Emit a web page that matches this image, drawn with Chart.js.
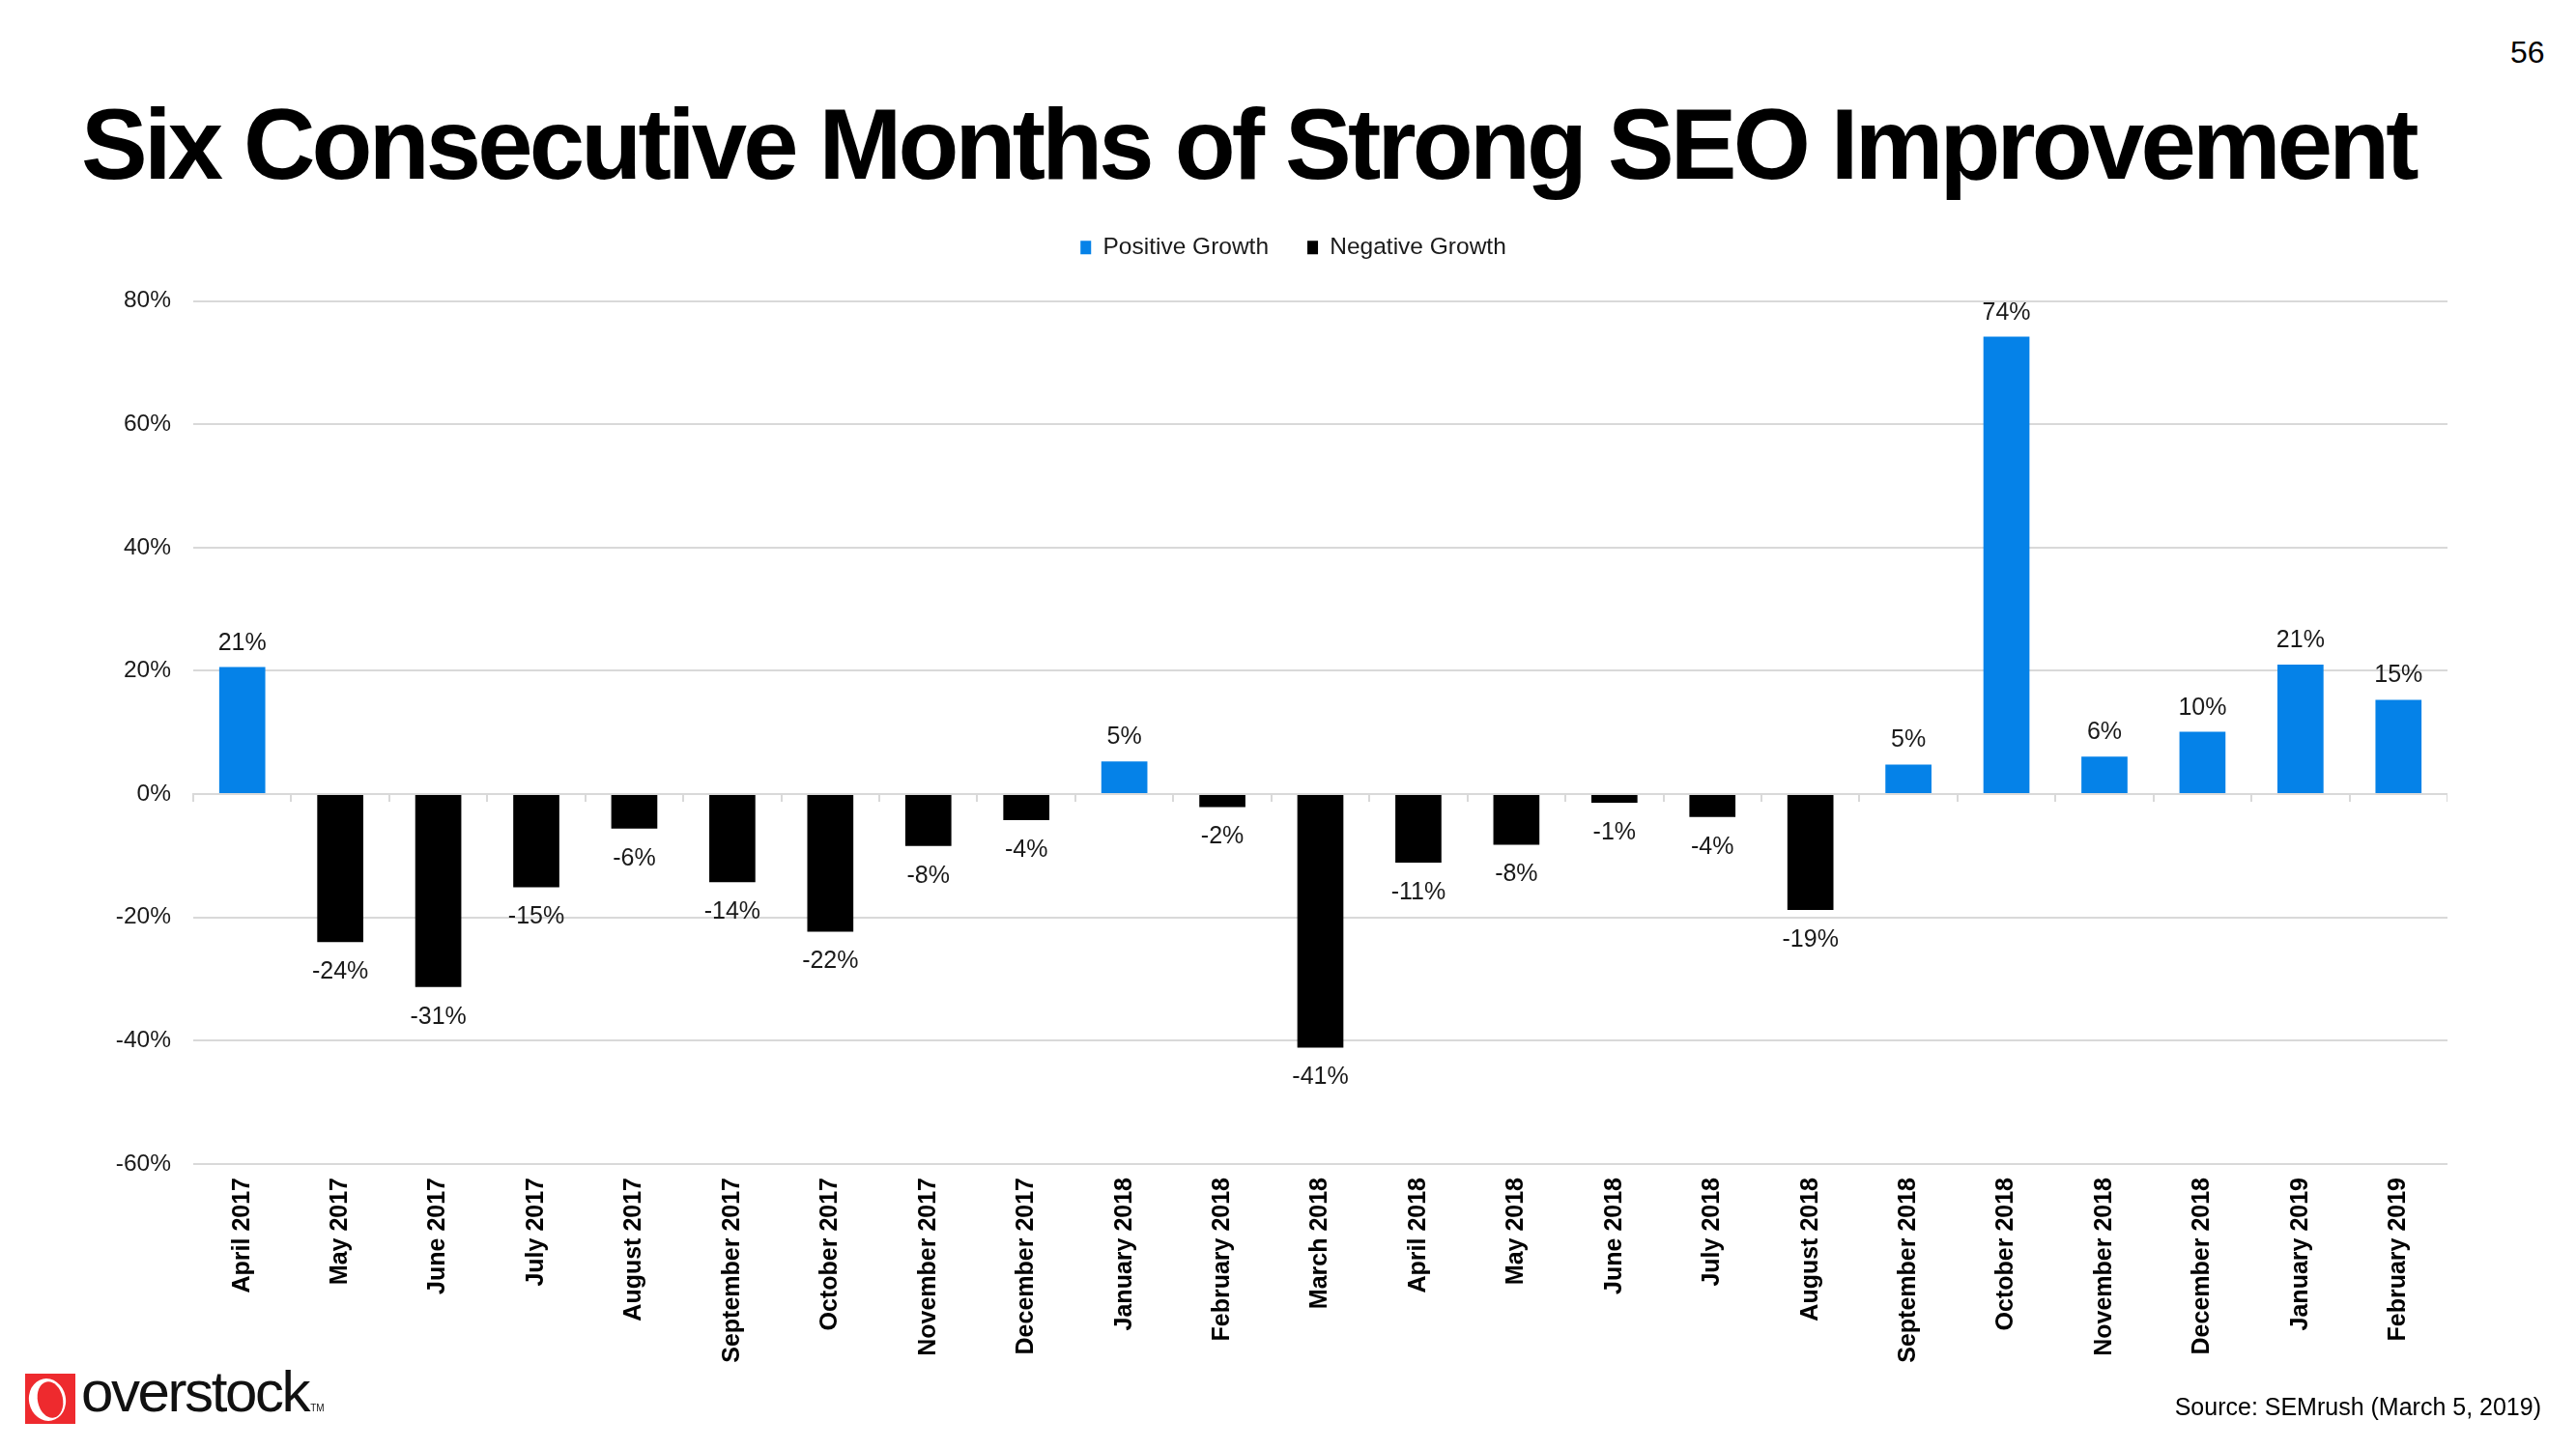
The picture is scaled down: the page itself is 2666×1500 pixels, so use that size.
<!DOCTYPE html>
<html>
<head>
<meta charset="utf-8">
<script src="https://cdn.jsdelivr.net/npm/chart.js@4.4.1/dist/chart.umd.min.js"></script>
<style>
  html, body { margin: 0; padding: 0; background: #fff; }
  body { width: 2666px; height: 1500px; position: relative; overflow: hidden; font-family: 'Liberation Sans', Arial, sans-serif; }
  #wrap { position: absolute; left: 0; top: 0; width: 2533px; height: 1500px; }
  #title { position: absolute; left: 84px; top: 98px; font-size: 103px; line-height: 1; font-weight: bold; color: #000; white-space: nowrap; letter-spacing: -3.8px; }
  #page { position: absolute; left: 2598px; top: 38px; font-size: 32px; line-height: 1; color: #000; }
  #source { position: absolute; right: 36px; top: 1444px; font-size: 25px; line-height: 1; color: #000; white-space: nowrap; }
  #logo { position: absolute; left: 26px; top: 1422px; width: 52px; height: 52px; background: #ee2a2e; overflow: hidden; }
  #logo .ring { position: absolute; left: 4px; top: 5px; width: 38px; height: 44px; border-radius: 50%; background: #fff; transform: rotate(-12deg); }
  #logo .inner { position: absolute; left: 13px; top: 8px; width: 26px; height: 38px; border-radius: 50%; background: #ee2a2e; transform: rotate(-12deg); }
  #brand { position: absolute; left: 84px; top: 1411px; font-size: 60px; line-height: 1; color: #111; font-weight: 300; letter-spacing: -2.4px; font-family: 'Liberation Sans', Arial, sans-serif; white-space: nowrap; }
  #brand sup { font-size: 10px; letter-spacing: 0; vertical-align: baseline; position: relative; top: 0px; margin-left: 2px; }
</style>
</head>
<body>
<div id="wrap"><canvas id="c" width="2533" height="1500"></canvas></div>
<div id="title">Six Consecutive Months of Strong SEO Improvement</div>
<div id="page">56</div>
<div id="logo"><div class="ring"></div><div class="inner"></div></div>
<div id="brand">overstock<sup>TM</sup></div>
<div id="source">Source: SEMrush (March 5, 2019)</div>
<script>
const categories = ['April 2017','May 2017','June 2017','July 2017','August 2017','September 2017','October 2017','November 2017','December 2017','January 2018','February 2018','March 2018','April 2018','May 2018','June 2018','July 2018','August 2018','September 2018','October 2018','November 2018','December 2018','January 2019','February 2019'];
const positiveGrowth = [20.6,null,null,null,null,null,null,null,null,5.3,null,null,null,null,null,null,null,4.8,74.2,6.1,10.1,21.0,15.3];
const negativeGrowth = [null,-24.0,-31.3,-15.1,-5.6,-14.3,-22.3,-8.4,-4.2,null,-2.1,-41.1,-11.1,-8.2,-1.4,-3.7,-18.8,null,null,null,null,null,null];
const yMin = -60, yMax = 80, yStep = 20;

const FONT = "'Liberation Sans', Arial, sans-serif";
const GRID = '#d9d9d9';

const legendTweak = {
  id: 'legendTweak',
  afterInit(chart) {
    const lg = chart.legend;
    if (!lg) return;
    const orig = lg.fit;
    lg.fit = function () { orig.call(this); this.height += 33; };
  },
  afterLayout(chart) {
    const lg = chart.legend;
    if (!lg) return;
    lg.left += 72; lg.right += 72;
  }
};

const valueLabels = {
  id: 'valueLabels',
  afterDatasetsDraw(chart) {
    const ctx = chart.ctx;
    ctx.save();
    ctx.font = '25px ' + FONT;
    ctx.fillStyle = '#1a1a1a';
    ctx.textAlign = 'center';
    ctx.textBaseline = 'alphabetic';
    chart.data.datasets.forEach((ds, di) => {
      const meta = chart.getDatasetMeta(di);
      meta.data.forEach((bar, i) => {
        const v = ds.data[i];
        if (v === null || v === undefined) return;
        const txt = Math.round(v) + '%';
        if (v >= 0) ctx.fillText(txt, bar.x, bar.y - 18);
        else ctx.fillText(txt, bar.x, bar.y + 38);
      });
    });
    ctx.restore();
  }
};

new Chart(document.getElementById('c'), {
  type: 'bar',
  data: {
    labels: categories,
    datasets: [
      { label: 'Positive Growth', data: positiveGrowth, backgroundColor: '#0582e8', categoryPercentage: 1, barPercentage: 0.47 },
      { label: 'Negative Growth', data: negativeGrowth, backgroundColor: '#000000', categoryPercentage: 1, barPercentage: 0.47 }
    ]
  },
  options: {
    responsive: false,
    animation: false,
    layout: { padding: { left: 0, right: 0, top: 204, bottom: 55 } },
    plugins: {
      legend: {
        position: 'top',
        labels: { font: { family: FONT, size: 24.5 }, color: '#1a1a1a', boxWidth: 11, boxHeight: 14, padding: 40 }
      },
      tooltip: { enabled: false }
    },
    scales: {
      x: {
        stacked: true,
        offset: true,
        grid: { display: false, drawTicks: false },
        border: { display: false },
        ticks: { font: { family: FONT, size: 25, weight: 'bold' }, color: '#000', minRotation: 90, maxRotation: 90, padding: 14, autoSkip: false },
        afterFit(s) { s.height = 240; }
      },
      x2: {
        type: 'category',
        position: { y: 0 },
        offset: true,
        grid: { drawOnChartArea: false, drawTicks: true, tickLength: 7, color: GRID, lineWidth: 2 },
        border: { display: true, color: GRID, width: 2 },
        ticks: { display: false }
      },
      y: {
        stacked: true,
        min: yMin, max: yMax,
        grid: { color: GRID, lineWidth: 2, drawTicks: false },
        border: { display: false },
        ticks: { stepSize: yStep, font: { family: FONT, size: 24.5 }, color: '#1a1a1a', padding: 23, callback: v => v + '%' },
        afterFit(s) { s.width = 200; }
      }
    }
  },
  plugins: [legendTweak, valueLabels]
});
</script>
</body>
</html>
